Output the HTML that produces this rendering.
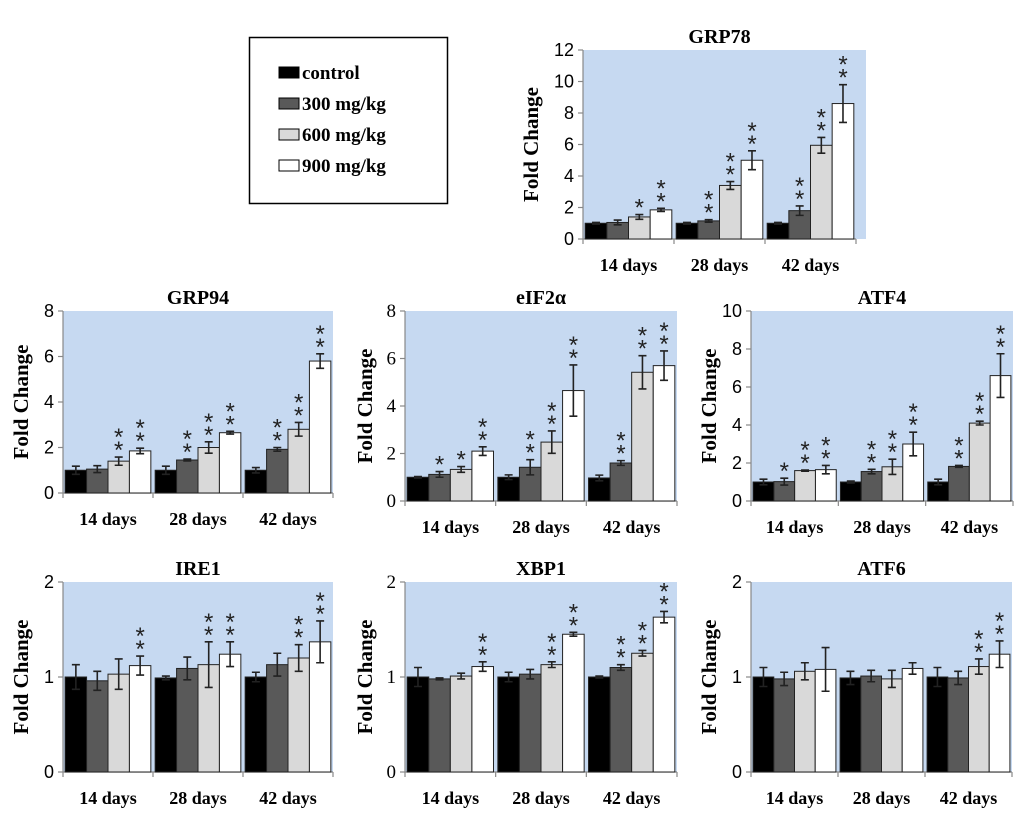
<!DOCTYPE html>
<html><head><meta charset="utf-8"><style>
html,body{margin:0;padding:0;background:#fff;}
svg{display:block;}
</style></head><body>
<svg id="fig" width="1020" height="816" viewBox="0 0 1020 816" xmlns="http://www.w3.org/2000/svg">
<g>
<rect x="249.5" y="37.5" width="198" height="166" fill="#fff" stroke="#000" stroke-width="1.5"/>
<rect x="279" y="67" width="20" height="11" fill="#000" stroke="#000"/>
<text x="302" y="79" font-family="Liberation Serif, serif" font-weight="bold" font-size="19">control</text>
<rect x="279" y="98" width="20" height="11" fill="#595959" stroke="#000"/>
<text x="302" y="110" font-family="Liberation Serif, serif" font-weight="bold" font-size="19">300 mg/kg</text>
<rect x="279" y="129" width="20" height="11" fill="#d9d9d9" stroke="#000"/>
<text x="302" y="141" font-family="Liberation Serif, serif" font-weight="bold" font-size="19">600 mg/kg</text>
<rect x="279" y="160" width="20" height="11" fill="#fff" stroke="#000"/>
<text x="302" y="172" font-family="Liberation Serif, serif" font-weight="bold" font-size="19">900 mg/kg</text>
</g>
</svg>
<script>
const categories = ["14 days","28 days","42 days"];
const seriesNames = ["control","300 mg/kg","600 mg/kg","900 mg/kg"];
const grp78Vals = [[1.0,1.05,1.4,1.85],[1.0,1.15,3.4,5.0],[1.0,1.8,5.95,8.6]];
const grp78Err  = [[0.05,0.15,0.15,0.1],[0.05,0.08,0.25,0.6],[0.05,0.3,0.5,1.2]];
const grp78Sig  = [[0,0,1,2],[0,2,2,2],[0,2,2,2]];
const grp94Vals = [[1.0,1.05,1.4,1.85],[1.0,1.45,2.0,2.65],[1.0,1.92,2.8,5.8]];
const grp94Err  = [[0.18,0.15,0.18,0.12],[0.18,0.04,0.25,0.06],[0.12,0.08,0.3,0.32]];
const grp94Sig  = [[0,0,2,2],[0,2,2,2],[0,2,2,2]];
const eif2Vals = [[1.0,1.12,1.33,2.1],[1.0,1.42,2.48,4.65],[0.97,1.6,5.42,5.7]];
const eif2Err  = [[0.03,0.12,0.12,0.18],[0.1,0.32,0.47,1.08],[0.12,0.1,0.7,0.62]];
const eif2Sig  = [[0,1,1,2],[0,2,2,2],[0,2,2,2]];
const atf4Vals = [[1.0,1.02,1.6,1.65],[1.0,1.55,1.8,3.0],[1.0,1.82,4.1,6.6]];
const atf4Err  = [[0.15,0.18,0.03,0.22],[0.05,0.12,0.4,0.62],[0.15,0.05,0.1,1.15]];
const atf4Sig  = [[0,1,2,2],[0,2,2,2],[0,2,2,2]];
const ire1Vals = [[1.0,0.96,1.03,1.12],[0.99,1.09,1.13,1.24],[1.0,1.13,1.2,1.37]];
const ire1Err  = [[0.13,0.1,0.16,0.1],[0.02,0.12,0.24,0.13],[0.05,0.12,0.14,0.22]];
const ire1Sig  = [[0,0,0,2],[0,0,2,2],[0,0,2,2]];
const xbp1Vals = [[1.0,0.98,1.01,1.11],[1.0,1.03,1.13,1.45],[1.0,1.1,1.25,1.63]];
const xbp1Err  = [[0.1,0.01,0.03,0.05],[0.05,0.05,0.03,0.02],[0.01,0.03,0.03,0.06]];
const xbp1Sig  = [[0,0,0,2],[0,0,2,2],[0,2,2,2]];
const atf6Vals = [[1.0,0.98,1.06,1.08],[0.99,1.01,0.98,1.09],[1.0,0.99,1.11,1.24]];
const atf6Err  = [[0.1,0.07,0.09,0.23],[0.07,0.06,0.09,0.06],[0.1,0.07,0.08,0.14]];
const atf6Sig  = [[0,0,0,0],[0,0,0,0],[0,0,2,2]];
const ticks12 = [0,2,4,6,8,10,12];
const ticks8 = [0,2,4,6,8];
const ticks10 = [0,2,4,6,8,10];
const ticks2 = [0,1,2];

const colors = ["#000000","#595959","#d9d9d9","#ffffff"];
const NS = "http://www.w3.org/2000/svg";
const svg = document.getElementById("fig");
function mk(tag, attrs, parent){const e=document.createElementNS(NS,tag);for(const k in attrs)e.setAttribute(k,attrs[k]);parent.appendChild(e);return e;}

const panels = [
 {id:"grp78",title:"GRP78",l:583,r:856,bg:866,t:50,b:239,max:12,ticks:ticks12,vals:grp78Vals,err:grp78Err,sig:grp78Sig,serif:false,ytx:538,catY:271},
 {id:"grp94",title:"GRP94",l:63,r:333,bg:333,t:311,b:493,max:8,ticks:ticks8,vals:grp94Vals,err:grp94Err,sig:grp94Sig,serif:false,ytx:28,catY:525},
 {id:"eif2a",title:"eIF2α",l:405,r:677,bg:677,t:311,b:501,max:8,ticks:ticks8,vals:eif2Vals,err:eif2Err,sig:eif2Sig,serif:true,ytx:372,catY:533},
 {id:"atf4",title:"ATF4",l:751,r:1013,bg:1013,t:311,b:501,max:10,ticks:ticks10,vals:atf4Vals,err:atf4Err,sig:atf4Sig,serif:false,ytx:716,catY:533},
 {id:"ire1",title:"IRE1",l:63,r:333,bg:333,t:582,b:772,max:2,ticks:ticks2,vals:ire1Vals,err:ire1Err,sig:ire1Sig,serif:false,ytx:28,catY:804},
 {id:"xbp1",title:"XBP1",l:405,r:677,bg:677,t:582,b:772,max:2,ticks:ticks2,vals:xbp1Vals,err:xbp1Err,sig:xbp1Sig,serif:true,ytx:372,catY:804},
 {id:"atf6",title:"ATF6",l:751,r:1012,bg:1012,t:582,b:772,max:2,ticks:ticks2,vals:atf6Vals,err:atf6Err,sig:atf6Sig,serif:false,ytx:716,catY:804}
];

panels.forEach(p=>{
  const g = mk("g",{},svg);
  
  
  const y = v => p.b - v/p.max*(p.b-p.t);
  const gw = (p.r-p.l)/categories.length;
  const bw = gw*0.238, m=(gw-4*bw)/2;
  const x = (ci,si) => p.l + ci*gw + m + si*bw;
  const bg = mk("rect",{x:p.l,y:p.t,width:p.bg-p.l,height:p.b-p.t,fill:"#c6d9f1"},g);
  
  
  const tf = p.serif ? "Liberation Serif, serif" : "Liberation Sans, sans-serif";
  mk("line",{x1:p.l,y1:p.t,x2:p.l,y2:p.b,stroke:"#888","stroke-width":1.2},g);
  p.ticks.forEach(tv=>{
    mk("line",{x1:p.l-5,y1:y(tv),x2:p.l,y2:y(tv),stroke:"#888","stroke-width":1.2},g);
    const t = mk("text",{x:p.l-9,y:y(tv)+6,"text-anchor":"end","font-family":tf,"font-size":p.serif?19:18,fill:"#000"},g);
    
    
    t.textContent = tv;
  });
  mk("line",{x1:p.l,y1:p.b,x2:p.r,y2:p.b,stroke:"#888","stroke-width":1.2},g);
  for(let i=0;i<=categories.length;i++) mk("line",{x1:p.l+i*gw,y1:p.b,x2:p.l+i*gw,y2:p.b+5,stroke:"#888","stroke-width":1.2},g);
  const tt = mk("text",{x:(p.l+p.r)/2,y:p.t-7,"text-anchor":"middle","font-family":"Liberation Serif, serif","font-weight":"bold","font-size":20},g);
  
  
  tt.textContent = p.title;
  const yt = mk("text",{x:0,y:0,"text-anchor":"middle","font-family":"Liberation Serif, serif","font-weight":"bold","font-size":21,transform:`translate(${p.ytx},${(p.t+p.b)/2}) rotate(-90)`},g);
  
  
  yt.textContent = "Fold Change";
  categories.forEach((c,ci)=>{
    const ct = mk("text",{x:p.l+ci*gw+gw/2,y:p.catY,"text-anchor":"middle","font-family":"Liberation Serif, serif","font-weight":"bold","font-size":18},g);
    
    
    ct.textContent = c;
    seriesNames.forEach((s,si)=>{
      const v = p.vals[ci][si], e = p.err[ci][si];
      const bar = mk("rect",{x:x(ci,si),y:y(v),width:bw,height:p.b-y(v),fill:colors[si],stroke:"#222","stroke-width":1},g);
      
      
      const cx = x(ci,si)+bw/2;
      const eb = mk("path",{d:`M${cx-4},${y(v+e)}H${cx+4}M${cx},${y(v+e)}V${y(v-e)}M${cx-4},${y(v-e)}H${cx+4}`,stroke:"#222","stroke-width":1.6,fill:"none"},g);
      
      
      const n = p.sig[ci][si];
      for(let k=0;k<n;k++){
        const st = mk("text",{x:cx,y:y(v+e)+1-k*13,"text-anchor":"middle","font-family":"Liberation Sans, sans-serif","font-size":24,fill:"#222"},g);
        
        
        st.textContent = "*";
      }
    });
  });
});
</script>
</body></html>
